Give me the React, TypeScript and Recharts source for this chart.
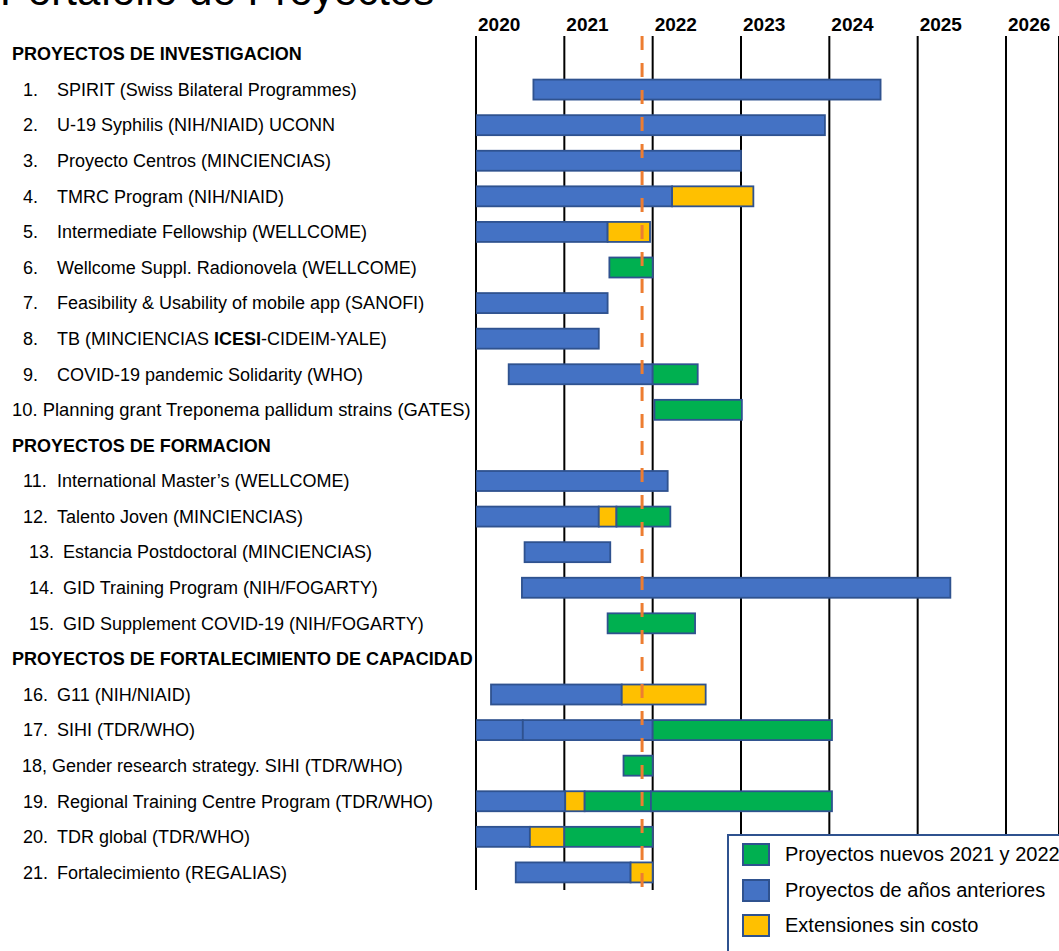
import { BarChart, Bar, XAxis, YAxis, CartesianGrid, ReferenceLine, Legend } from 'recharts'

const FONT = "'Liberation Sans', Arial, sans-serif"

const sections = [
  'PROYECTOS DE INVESTIGACION',
  'PROYECTOS DE FORMACION',
  'PROYECTOS DE FORTALECIMIENTO DE CAPACIDAD',
]

// "\t" splits number column and name column, "**" marks bold text
const projects = [
  '1.\tSPIRIT (Swiss Bilateral Programmes)',
  '2.\tU-19 Syphilis (NIH/NIAID) UCONN',
  '3.\tProyecto Centros (MINCIENCIAS)',
  '4.\tTMRC Program (NIH/NIAID)',
  '5.\tIntermediate Fellowship (WELLCOME)',
  '6.\tWellcome Suppl. Radionovela (WELLCOME)',
  '7.\tFeasibility & Usability of mobile app (SANOFI)',
  '8.\tTB (MINCIENCIAS **ICESI**-CIDEIM-YALE)',
  '9.\tCOVID-19 pandemic Solidarity (WHO)',
  '10. Planning grant Treponema pallidum strains (GATES)',
  '11.\tInternational Master\u2019s (WELLCOME)',
  '12.\tTalento Joven (MINCIENCIAS)',
  '13.\tEstancia Postdoctoral (MINCIENCIAS)',
  '14.\tGID Training Program (NIH/FOGARTY)',
  '15.\tGID Supplement COVID-19 (NIH/FOGARTY)',
  '16.\tG11 (NIH/NIAID)',
  '17.\tSIHI (TDR/WHO)',
  '18, Gender research strategy. SIHI (TDR/WHO)',
  '19.\tRegional Training Centre Program (TDR/WHO)',
  '20.\tTDR global (TDR/WHO)',
  '21.\tFortalecimiento (REGALIAS)',
]
const projectSection = [0, 0, 0, 0, 0, 0, 0, 0, 0, 0, 1, 1, 1, 1, 1, 2, 2, 2, 2, 2, 2]

// timeline, in decimal years: start, then where each segment ends (null = no segment)
const startYear = [2020.65, 2020, 2020, 2020, 2020, 2021.51, 2020, 2020, 2020.37, 2022.02, 2020, 2020, 2020.55, 2020.52, 2021.49, 2020.17, 2020, 2021.67, 2020, 2020, 2020.45]
const blueEnd = [2024.58, 2023.95, 2023.0, 2022.22, 2021.49, null, 2021.49, 2021.39, 2022.0, null, 2022.17, 2021.39, 2021.52, 2025.37, null, 2021.65, 2020.53, null, 2021.01, 2020.61, 2021.75]
const blue2End = [null, null, null, null, null, null, null, null, null, null, null, null, null, null, null, null, 2022.0, null, null, null, null]
const yellowEnd = [null, null, null, 2023.14, 2021.97, null, null, null, null, null, null, 2021.59, null, null, null, 2022.6, null, null, 2021.23, 2021.0, 2022.0]
const greenEnd = [null, null, null, null, null, 2022.0, null, null, 2022.51, 2023.01, null, 2022.2, null, null, 2022.48, null, 2024.03, 2022.0, 2021.98, 2022.0, null]
const green2End = [null, null, null, null, null, null, null, null, null, null, null, null, null, null, null, null, null, null, 2024.03, null, null]

const years = [2020, 2021, 2022, 2023, 2024, 2025, 2026]
const today = 2021.88

const legendNames = ['Proyectos nuevos 2021 y 2022', 'Proyectos de años anteriores', 'Extensiones sin costo']

const BLUE = '#4472C4'
const GREEN = '#00B050'
const YELLOW = '#FFC000'
const EDGE = '#2F528F'
const legendColors = [GREEN, BLUE, YELLOW]

const segKeys = ['blue', 'blue2', 'yellow', 'green', 'green2']
const segEnds = [blueEnd, blue2End, yellowEnd, greenEnd, green2End]

const rows: any[] = []
sections.forEach((title, s) => {
  rows.push({ label: title })
  projects.forEach((label, i) => {
    if (projectSection[i] !== s) return
    const row: any = { label, offset: startYear[i] }
    let prev = startYear[i]
    segKeys.forEach((k, j) => {
      const end = segEnds[j][i]
      row[k] = end == null ? null : +(end - prev).toFixed(4)
      if (end != null) prev = end
    })
    rows.push(row)
  })
})

function Segment(props: any) {
  const { x, y, width, height, fill } = props
  if (!(width >= 0.5)) return <g />
  return <rect x={x} y={y} width={width} height={height} fill={fill} stroke={EDGE} strokeWidth={1.8} />
}

function renderRich(text: string) {
  return text.split('**').map((part, i) => (
    <tspan key={i} fontWeight={i % 2 ? 700 : 400}>{part}</tspan>
  ))
}

function RowLabel(props: any) {
  const { y, payload } = props
  const label: string = payload.value
  if (sections.includes(label)) {
    return (
      <text x={12} y={y} dy="0.36em" fontSize={18} fontWeight={700} fontFamily={FONT} fill="#000">
        {label}
      </text>
    )
  }
  const tab = label.indexOf('\t')
  if (tab < 0) {
    const long = label.length > 48
    return (
      <text x={long ? 12 : 22} y={y} dy="0.36em" fontSize={long ? 18.4 : 18} fontFamily={FONT} fill="#000">
        {label}
      </text>
    )
  }
  // the FORMACION entries 13-15 sit a little further right on the slide
  const num = parseInt(label, 10)
  const shift = num >= 13 && num <= 15 ? 6 : 0
  return (
    <g>
      <text x={23 + shift} y={y} dy="0.36em" fontSize={18} fontFamily={FONT} fill="#000">
        {label.slice(0, tab)}
      </text>
      <text x={57 + shift} y={y} dy="0.36em" fontSize={18} fontFamily={FONT} fill="#000">
        {renderRich(label.slice(tab + 1))}
      </text>
    </g>
  )
}

function YearTick(props: any) {
  const { x, y, payload } = props
  return (
    <text x={x + 2} y={y} fontSize={19} fontWeight={700} fontFamily={FONT} fill="#000">
      {payload.value}
    </text>
  )
}

function LegendBox() {
  return (
    <div
      style={{
        width: 340,
        height: 130,
        background: '#fff',
        border: `2px solid ${EDGE}`,
        boxSizing: 'border-box',
        paddingTop: 1,
        paddingLeft: 13,
        fontFamily: FONT,
      }}
    >
      {legendNames.map((name, i) => (
        <div key={name} style={{ display: 'flex', alignItems: 'center', height: 35.5 }}>
          <span
            style={{
              width: 28,
              height: 23,
              background: legendColors[i],
              border: `2px solid ${EDGE}`,
              boxSizing: 'border-box',
              marginRight: 15,
            }}
          />
          <span style={{ fontSize: 20, color: '#000', whiteSpace: 'nowrap' }}>{name}</span>
        </div>
      ))}
    </div>
  )
}

export default function App() {
  return (
    <div style={{ position: 'absolute', left: 0, top: 0, width: 1059, height: 951, overflow: 'hidden', background: '#fff' }}>
      <div
        style={{
          position: 'absolute',
          left: 0,
          top: -30,
          fontSize: 42,
          lineHeight: '42px',
          fontFamily: FONT,
          color: '#000',
          whiteSpace: 'nowrap',
        }}
      >
        Portafolio de Proyectos
      </div>
      <BarChart
        width={1059}
        height={951}
        data={rows}
        layout="vertical"
        barSize={20}
        margin={{ top: 0, right: 0, bottom: 61, left: 0 }}
      >
        <CartesianGrid horizontal={false} stroke="#000" strokeWidth={2} />
        <XAxis
          type="number"
          orientation="top"
          domain={[2020, 2026.6]}
          ticks={years}
          allowDataOverflow
          height={36}
          axisLine={false}
          tickLine={false}
          tickSize={0}
          tickMargin={5}
          tick={YearTick}
        />
        <YAxis
          type="category"
          dataKey="label"
          width={476}
          axisLine={false}
          tickLine={false}
          interval={0}
          tick={RowLabel}
        />
        <Bar dataKey="offset" stackId="p" fill="none" shape={() => <g />} legendType="none" isAnimationActive={false} />
        <Bar dataKey="blue" stackId="p" fill={BLUE} shape={Segment} legendType="none" isAnimationActive={false} />
        <Bar dataKey="blue2" stackId="p" fill={BLUE} shape={Segment} legendType="none" isAnimationActive={false} />
        <Bar dataKey="yellow" stackId="p" fill={YELLOW} shape={Segment} legendType="none" isAnimationActive={false} />
        <Bar dataKey="green" stackId="p" fill={GREEN} shape={Segment} legendType="none" isAnimationActive={false} />
        <Bar dataKey="green2" stackId="p" fill={GREEN} shape={Segment} legendType="none" isAnimationActive={false} />
        <ReferenceLine x={today} stroke="#ED7D31" strokeWidth={3} strokeDasharray="14 13" />
        <Legend
          layout="vertical"
          align="center"
          verticalAlign="middle"
          content={LegendBox}
          wrapperStyle={{ left: 727, top: 834, width: 340 }}
        />
      </BarChart>
    </div>
  )
}
